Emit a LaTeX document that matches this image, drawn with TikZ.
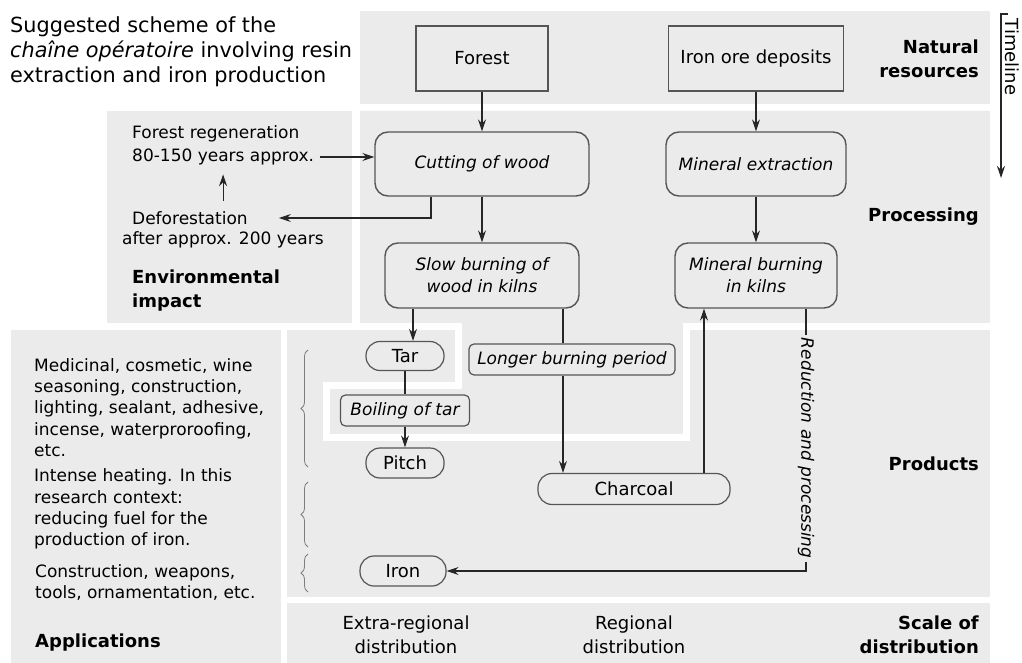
\documentclass[tikz,border=0pt]{standalone}
\usepackage{fontspec}
\setmainfont{DejaVu Sans}[ItalicFont={DejaVu Sans Oblique},BoldFont={DejaVu Sans Bold},BoldItalicFont={DejaVu Sans Bold Oblique}]
\usetikzlibrary{arrows.meta,decorations.pathreplacing}
\definecolor{panelgrey}{RGB}{235,235,235}
\definecolor{edgegrey}{RGB}{85,85,85}
\definecolor{bracegrey}{RGB}{125,125,125}
\tikzset{
  arr/.style={-{Stealth[length=12pt,width=8pt,inset=4pt]},line width=1.1pt,draw=black!85},
  link/.style={line width=1.1pt,draw=black!85},
  resbox/.style={draw=edgegrey,line width=1.4pt,fill=panelgrey,font=\fontsize{18}{22}\selectfont,minimum height=65pt,inner sep=0pt},
  procbox/.style={draw=edgegrey,line width=1.4pt,fill=panelgrey,rounded corners=13pt,align=center,font=\fontsize{17}{22}\selectfont\itshape,minimum height=64pt,inner sep=0pt},
  pill/.style={draw=edgegrey,line width=1.2pt,fill=panelgrey,rounded corners=14pt,font=\fontsize{18}{22}\selectfont,minimum height=30pt,inner sep=0pt},
  stepbox/.style={draw=edgegrey,line width=1.2pt,fill=panelgrey,rounded corners=5pt,font=\fontsize{17}{22}\selectfont\itshape,minimum height=31pt,inner sep=0pt},
  lbl/.style={font=\fontsize{17}{21.2}\selectfont,align=left,inner sep=0pt},
  head/.style={font=\fontsize{18}{23.5}\selectfont\bfseries,inner sep=0pt},
  reduce/.style={rotate=-90,fill=panelgrey,font=\fontsize{17}{21}\selectfont\itshape,inner xsep=3pt,inner ysep=1pt},
  band/.style={draw=white,line width=7pt},
  curly/.style={decorate,decoration={brace,amplitude=7pt},draw=bracegrey,line width=0.8pt},
}
\begin{document}
\begin{tikzpicture}[x=1pt,y=-1pt]
\useasboundingbox (0,0) rectangle (1022,663);

\fill[panelgrey] (360,11) rectangle (990,104);
\fill[panelgrey] (107,111) rectangle (352,323);
\fill[panelgrey] (11,330) rectangle (281,663);
\fill[panelgrey] (287,329) rectangle (990,597);
\fill[panelgrey] (287,603) rectangle (990,663);
\fill[panelgrey] (360,111) -- (990,111) -- (990,326) -- (686.5,326) -- (686.5,437) -- (326,437)
  -- (326,385) -- (458.5,385) -- (458.5,326) -- (360,326) -- cycle;
\draw[band] (990,326) -- (686.5,326) -- (686.5,437) -- (326,437) -- (326,385) -- (458.5,385)
  -- (458.5,326) -- (287,326);

\node[lbl,font=\fontsize{20.8}{25}\selectfont,anchor=west] (title) at (10,52)
  {Suggested scheme of the\\\textit{chaîne opératoire} involving resin\\extraction and iron production};

\node[head,align=right,anchor=east] (natural) at (979,59) {Natural\\resources};
\node[head,anchor=east] (processing) at (979,217) {Processing};
\node[head,anchor=east] (products) at (979,464) {Products};
\node[head,align=right,anchor=east] (scale) at (979,635) {Scale of\\distribution};
\node[head,align=left,anchor=west] (envhead) at (132,290.5) {Environmental\\impact};
\node[head,anchor=west] (apphead) at (35,643) {Applications};

\coordinate (tltop) at (1001,14);
\coordinate (tlend) at (1001,178);
\draw[arr] ([xshift=7pt]tltop) -- (tltop) -- (tlend);
\node[lbl,font=\fontsize{18}{22}\selectfont,rotate=-90] (timeline) at (1012,57) {Timeline};

\node[resbox,minimum width=132pt] (forest) at (482,58.5) {Forest};
\node[resbox,minimum width=175pt] (ore) at (756,58.5) {Iron ore deposits};
\node[procbox,minimum width=214pt] (cut) at (482,164) {Cutting of wood};
\node[procbox,minimum width=180pt] (extract) at (756,164) {Mineral extraction};
\node[procbox,minimum width=194pt,minimum height=65pt] (slowburn) at (482,275.5) {Slow burning of\\wood in kilns};
\node[procbox,minimum width=162pt,minimum height=65pt] (oreburn) at (756,275.5) {Mineral burning\\in kilns};

\node[pill,minimum width=78pt,minimum height=29pt] (tar) at (405,356) {Tar};
\node[stepbox,minimum width=129pt] (boil) at (405,410.5) {Boiling of tar};
\node[pill,minimum width=78pt] (pitch) at (405,463) {Pitch};
\node[stepbox,minimum width=206pt] (longburn) at (572,359.5) {Longer burning period};
\node[pill,minimum width=192pt,minimum height=31pt] (charcoal) at (634,489) {Charcoal};
\node[pill,minimum width=86pt] (iron) at (403,571) {Iron};

\node[lbl,anchor=west] (regenA) at (132,134) {Forest regeneration};
\node[lbl,anchor=west] (regenB) at (132,157) {80-150 years approx.};
\node[lbl,anchor=west] (deforA) at (132,218) {Deforestation};
\node[lbl,anchor=west] (deforB) at (122,240) {after approx. 200 years};

\node[lbl,anchor=west] (usesA) at (34,407.5)
  {Medicinal, cosmetic, wine\\seasoning, construction,\\lighting, sealant, adhesive,\\incense, waterproroofing,\\etc.};
\node[lbl,anchor=west] (usesB) at (34,509)
  {Intense heating. In this\\research context:\\reducing fuel for the\\production of iron.};
\node[lbl,anchor=west] (usesC) at (35,582.5) {Construction, weapons,\\tools, ornamentation, etc.};

\node[lbl,align=center,font=\fontsize{18}{24}\selectfont] (extra) at (406,635) {Extra-regional\\distribution};
\node[lbl,align=center,font=\fontsize{18}{24}\selectfont] (regional) at (634,635) {Regional\\distribution};

\draw[curly] (308,467) -- (308,350);
\draw[curly] (308,547) -- (308,482);
\draw[curly] (308,592) -- (308,554);

\coordinate (cutout) at ([xshift=-51pt]cut.south);
\coordinate (tarin) at ([xshift=-69pt]slowburn.south);
\coordinate (coalin) at ([xshift=81pt]slowburn.south);
\coordinate (coalout) at ([xshift=70pt]charcoal.north);
\coordinate (oreout) at ([xshift=50pt]oreburn.south);

\draw[arr] (forest) -- (cut);
\draw[arr] (ore) -- (extract);
\draw[arr] (cut) -- (slowburn);
\draw[arr] (extract) -- (oreburn);
\draw[arr] (cutout) |- ([xshift=31pt]deforA.east);
\draw[arr] ([xshift=6pt]regenB.east) -- (regenB.east -| cut.west);
\draw[arr,shorten <=10pt,shorten >=9pt] (regenB.south |- deforA.north) -- (regenB.south);
\draw[arr] (tarin) -- (tarin |- tar.north);
\draw[link] (tar) -- (boil);
\draw[arr] (boil) -- (pitch);
\draw[link] (coalin) -- (coalin |- longburn.north);
\draw[arr] (coalin |- longburn.south) -- (coalin |- charcoal.north);
\draw[arr] (coalout) -- (coalout |- oreburn.south);
\draw[arr] (oreout) |- node[reduce,pos=0.266] (reduction) {Reduction and processing} (iron.east);
\end{tikzpicture}
\end{document}
